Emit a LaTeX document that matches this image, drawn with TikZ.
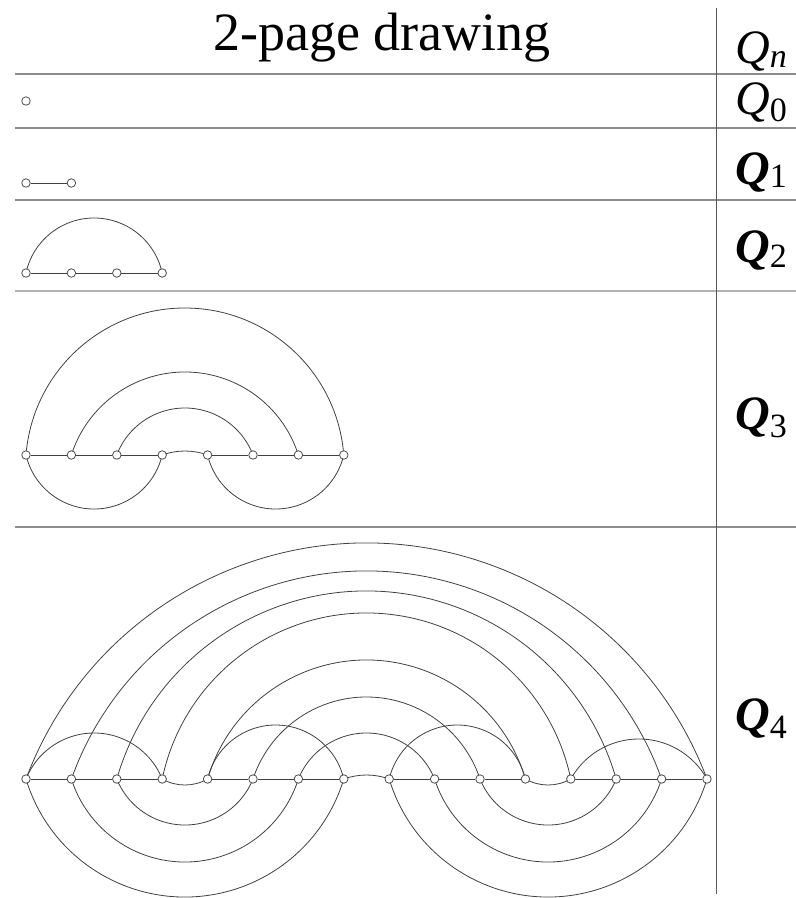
\documentclass[tikz,border=0pt]{standalone}
\usepackage{fontspec}
\setmainfont{Liberation Serif}
\usetikzlibrary{backgrounds}

% spacing of the spine vertices
\newcommand{\vgap}{45.4}
% circular arc above the spine: node prefix, from, to, rise
\newcommand{\uparc}[4]{%
  \pgfmathsetmacro\arcw{(#3-#2)*\vgap/2}%
  \pgfmathsetmacro\arcr{0.5*(\arcw*(\arcw/#4)+#4)}%
  \pgfmathsetmacro\arca{asin(\arcw/\arcr)}%
  \draw[edge] (#1#2.center) arc[start angle=90+\arca, end angle=90-\arca, radius=\arcr pt];}
% circular arc below the spine
\newcommand{\downarc}[4]{%
  \pgfmathsetmacro\arcw{(#3-#2)*\vgap/2}%
  \pgfmathsetmacro\arcr{0.5*(\arcw*(\arcw/#4)+#4)}%
  \pgfmathsetmacro\arca{asin(\arcw/\arcr)}%
  \draw[edge] (#1#2.center) arc[start angle=270-\arca, end angle=270+\arca, radius=\arcr pt];}

\begin{document}
\begin{tikzpicture}[x=1pt, y=-1pt,
    vtx/.style={circle, draw=black!70, fill=white, line width=0.8pt, inner sep=0pt, minimum size=8.5pt},
    edge/.style={draw=black!75, line width=0.8pt},
    rowline/.style={draw=black!45, line width=1.6pt},
    qlabel/.style={anchor=base west, inner sep=0pt, font=\fontsize{48}{48}\selectfont}]
    \useasboundingbox (0,0) rectangle (796,898);

    % Table rules
    \foreach \y in {74,128,200,527}
        \draw[rowline] (15,\y) -- (796,\y);
    \draw[rowline, draw=black!30, line width=2.4pt] (15,291) -- (796,291);
    \draw[draw=black!65, line width=0.9pt] (716,8) -- (716,894);

    % Heading
    \node[anchor=base, inner sep=0pt, font=\fontsize{54}{54}\selectfont] (title) at (382,50) {2-page drawing};
    \node[qlabel] (qn) at (735,63) {\itshape Q\raisebox{-4pt}{\fontsize{34}{34}\selectfont n}};
    \node[qlabel] (lq0) at (735,114) {\itshape Q\raisebox{-7pt}{\fontsize{34}{34}\selectfont\upshape 0}};
    \node[qlabel] (lq1) at (735,184) {\bfseries\itshape Q\raisebox{-3pt}{\fontsize{34}{34}\selectfont\mdseries\upshape 1}};
    \node[qlabel] (lq2) at (735,262) {\bfseries\itshape Q\raisebox{-5pt}{\fontsize{34}{34}\selectfont\mdseries\upshape 2}};
    \node[qlabel] (lq3) at (735,429) {\bfseries\itshape Q\raisebox{-8pt}{\fontsize{34}{34}\selectfont\mdseries\upshape 3}};
    \node[qlabel] (lq4) at (735,730) {\bfseries\itshape Q\raisebox{-8pt}{\fontsize{34}{34}\selectfont\mdseries\upshape 4}};

    % Q0 and Q1
    \node[vtx] (q0v1) at (26,101) {};
    \node[vtx] (q1v1) at (26,183) {};
    \node[vtx] (q1v2) at (26+\vgap,183) {};
    \draw[edge] (q1v1) -- (q1v2);

    % Q2
    \foreach \i in {1,...,4}
        \node[vtx] (q2v\i) at ({26+(\i-1)*\vgap},273) {};
    \begin{scope}[on background layer]
        \foreach \a/\b in {1/2,2/3,3/4}
            \draw[edge] (q2v\a) -- (q2v\b);
        \uparc{q2v}{1}{4}{55}
    \end{scope}

    % Q3
    \foreach \i in {1,...,8}
        \node[vtx] (q3v\i) at ({26+(\i-1)*\vgap},455) {};
    \begin{scope}[on background layer]
        \foreach \a/\b in {1/2,2/3,3/4,5/6,6/7,7/8}
            \draw[edge] (q3v\a) -- (q3v\b);
        \foreach \a/\b/\h in {1/8/147,2/7/83,3/6/47,4/5/4}
            {\uparc{q3v}{\a}{\b}{\h}}
        \foreach \a/\b/\h in {1/4/54,5/8/54}
            {\downarc{q3v}{\a}{\b}{\h}}
    \end{scope}

    % Q4: two copies of Q3 joined by nested arcs
    \foreach \i in {1,...,16}
        \node[vtx] (q4v\i) at ({26+(\i-1)*\vgap},779) {};
    \begin{scope}[on background layer]
        \foreach \a/\b in {1/2,2/3,3/4,5/6,6/7,7/8,9/10,10/11,11/12,13/14,14/15,15/16}
            \draw[edge] (q4v\a) -- (q4v\b);
        % matching
        \foreach \a/\b/\h in {1/16/236,2/15/208,3/14/188,4/13/166,5/12/119,6/11/82,7/10/46,8/9/4}
            {\uparc{q4v}{\a}{\b}{\h}}
        % copies
        \foreach \a/\b/\h in {1/4/46,5/8/54,9/12/54,13/16/40}
            {\uparc{q4v}{\a}{\b}{\h}}
        \foreach \a/\b/\h in {1/8/118,2/7/83,3/6/46,4/5/6,9/16/118,10/15/83,11/14/46,12/13/6}
            {\downarc{q4v}{\a}{\b}{\h}}
    \end{scope}
\end{tikzpicture}
\end{document}
